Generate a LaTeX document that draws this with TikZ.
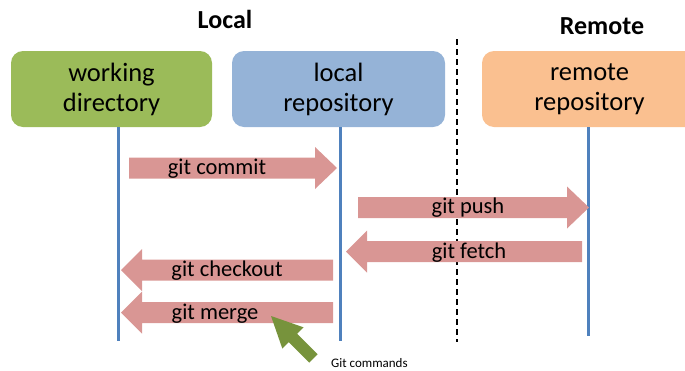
\documentclass[tikz,border=0pt]{standalone}
\usepackage{fontspec}
\setmainfont{Carlito}
\definecolor{wdgreen}{HTML}{9BBB59}
\definecolor{lrblue}{HTML}{95B3D7}
\definecolor{rrorange}{HTML}{FAC090}
\definecolor{cmdpink}{HTML}{D99694}
\definecolor{lifeblue}{HTML}{4F81BD}
\definecolor{hintgreen}{HTML}{77933C}
\tikzset{
  repobox/.style={rounded corners=12pt, minimum height=76pt, align=center,
    font=\fontsize{26.5}{30}\selectfont, inner sep=0pt},
  lifeline/.style={draw=lifeblue, line width=3pt},
  cmdlabel/.style={font=\fontsize{22.5}{26}\selectfont, inner sep=0pt},
  title/.style={font=\bfseries\fontsize{26}{30}\selectfont, inner sep=0pt},
  divider/.style={draw=black, line width=2pt, dash pattern=on 6pt off 4pt},
}
% block arrow: tail x, tip x, centre y, x where the head begins
\newcommand\cmdarrow[4]{%
  \fill[cmdpink] (#1,#3-10.5) -- (#4,#3-10.5) -- (#4,#3-21) -- (#2,#3)
    -- (#4,#3+21) -- (#4,#3+10.5) -- (#1,#3+10.5) -- cycle;}
\begin{document}
\begin{tikzpicture}[x=1pt,y=-1pt]
\useasboundingbox (0,0) rectangle (685,370);

% titles
\node[title] (localtitle) at (225,19) {Local};
\node[title] (remotetitle) at (602,26) {Remote};

% separator between local and remote side
\coordinate (divtop) at (457,39);
\coordinate (divbot) at (457,342);
\draw[divider] (divtop) -- (divbot);

% repositories
\node[repobox, fill=wdgreen, minimum width=201pt] (wd) at (111.5,89) {working\\directory};
\node[repobox, fill=lrblue, minimum width=213pt] (lr) at (338.5,89) {local\\repository};
\node[repobox, fill=rrorange, minimum width=215pt] (rr) at (589.5,89) {remote\\repository};

% life lines
\coordinate (wdend) at (118,341);
\coordinate (lrend) at (340,341);
\coordinate (rrend) at (588,336);
\draw[lifeline] (wd.south -| wdend) -- (wdend);
\draw[lifeline] (lr.south -| lrend) -- (lrend);
\draw[lifeline] (rr.south -| rrend) -- (rrend);

% commands
\cmdarrow{129}{337}{168}{315}
\node[cmdlabel] (commit) at (217,169) {git commit};
\cmdarrow{358}{589}{207.5}{567}
\node[cmdlabel] (push) at (468,208) {git push};
\cmdarrow{582}{346}{251.5}{367}
\node[cmdlabel] (fetch) at (469,253) {git fetch};
\cmdarrow{333}{121}{270}{142}
\node[cmdlabel] (checkout) at (227,271) {git checkout};
\cmdarrow{333}{121}{312.5}{142}
\node[cmdlabel] (merge) at (215,314) {git merge};

% pointer to the commands
\coordinate (tip) at (271,316);
\fill[hintgreen] (tip) -- (303.5,327.3) -- (297.1,333.7) -- (317.6,354.2)
  -- (309.2,362.6) -- (288.7,342.1) -- (282.3,348.5) -- cycle;
\node[font=\fontsize{13}{15}\selectfont, anchor=west, inner sep=0pt] (hint) at (331,363) {Git commands};
\end{tikzpicture}
\end{document}
